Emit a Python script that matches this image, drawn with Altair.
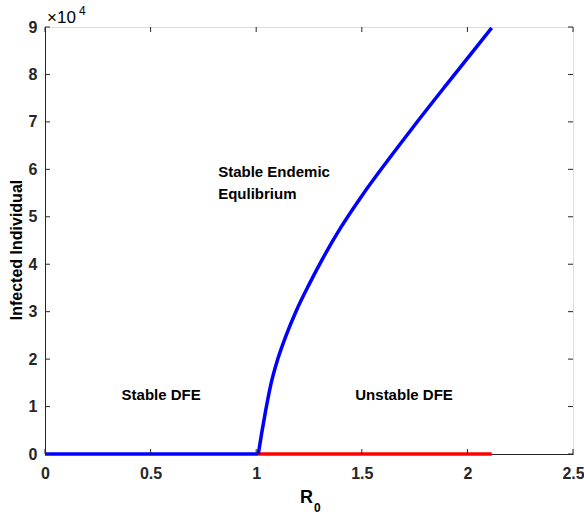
import altair as alt
import pandas as pd

# Data (y in units of 1e4)
dfe_x = [0.0, 1.01]
dfe_y = [0.0, 0.0]
unstable_x = [1.01, 2.115]
unstable_y = [0.0, 0.0]
ee_x = [1.010, 1.026, 1.045, 1.070, 1.100, 1.140, 1.190, 1.250, 1.320, 1.400, 1.500, 1.620,
        1.750, 1.900, 2.000, 2.115]
ee_y = [0.00, 0.44, 0.92, 1.48, 1.97, 2.48, 3.02, 3.57, 4.16, 4.77, 5.44, 6.17,
        6.93, 7.78, 8.34, 8.98]
x_ticks = [0, 0.5, 1, 1.5, 2, 2.5]
y_ticks = [0, 1, 2, 3, 4, 5, 6, 7, 8, 9]
labels = ["Stable DFE", "Stable Endemic", "Equlibrium", "Unstable DFE"]
label_x = [0.55, 0.82, 0.82, 1.7]
label_y = [1.24, 5.94, 5.48, 1.24]
label_align = ["center", "left", "left", "center"]

W, H = 528, 427
FONT = "Liberation Sans"
DARK = "#262626"

xs = alt.Scale(domain=[0, 2.5], nice=False)
ys = alt.Scale(domain=[0, 9], nice=False)

ee = pd.DataFrame({"x": ee_x, "y": ee_y, "o": range(len(ee_x))})
dfe = pd.DataFrame({"x": dfe_x, "y": dfe_y})
uns = pd.DataFrame({"x": unstable_x, "y": unstable_y})
lab = pd.DataFrame({"x": label_x, "y": label_y, "t": labels, "a": label_align})

xaxis = alt.Axis(values=x_ticks, title=None, labelFont=FONT, labelFontSize=16, labelFontWeight="bold",
                 labelColor=DARK, domainColor=DARK, ticks=False, grid=False, labelPadding=11,
                 labelFlush=False,
                 labelExpr="datum.value == 0 ? '0' : format(datum.value, '.1~f')")
yaxis = alt.Axis(values=y_ticks, title=None,
                 labelFont=FONT, labelFontSize=16, labelFontWeight="bold", labelColor=DARK,
                 domainColor=DARK, ticks=False, grid=False, labelPadding=8, labelFlush=False)

base_x = alt.X("x:Q", scale=xs, axis=xaxis)
base_y = alt.Y("y:Q", scale=ys, axis=yaxis)

blue1 = alt.Chart(dfe).mark_line(color="#0000FF", strokeWidth=3.5).encode(x=base_x, y=base_y)
red = alt.Chart(uns).mark_line(color="#FF0000", strokeWidth=3.5).encode(x="x:Q", y="y:Q")
blue2 = alt.Chart(ee).mark_line(color="#0000FF", strokeWidth=3.5, interpolate="monotone").encode(
    x="x:Q", y="y:Q", order="o:Q")

texts = alt.Chart(lab[lab.a == "center"]).mark_text(font=FONT, fontSize=15, fontWeight="bold",
                                                     color="#000000", align="center").encode(
    x="x:Q", y="y:Q", text="t:N")
texts_l = alt.Chart(lab[lab.a == "left"]).mark_text(font=FONT, fontSize=15, fontWeight="bold",
                                                   color="#000000", align="left").encode(
    x="x:Q", y="y:Q", text="t:N")

# inward ticks
xt = pd.DataFrame({"x": x_ticks})
yt = pd.DataFrame({"y": y_ticks})
tb = alt.Chart(xt).mark_rule(color=DARK, strokeWidth=1).encode(x="x:Q", y=alt.value(H), y2=alt.value(H - 5))
tt = alt.Chart(xt).mark_rule(color=DARK, strokeWidth=1).encode(x="x:Q", y=alt.value(0), y2=alt.value(5))
tl = alt.Chart(yt).mark_rule(color=DARK, strokeWidth=1).encode(y="y:Q", x=alt.value(0), x2=alt.value(5))
tr = alt.Chart(yt).mark_rule(color=DARK, strokeWidth=1).encode(y="y:Q", x=alt.value(W), x2=alt.value(W - 5))

# axis titles and exponent label
ann = pd.DataFrame({"k": [0]})
y_title = alt.Chart(ann).mark_text(font=FONT, fontSize=16, fontWeight="bold", color="#000000",
                                   align="center", baseline="middle", angle=270).encode(
    x=alt.value(-28), y=alt.value(223), text=alt.value("Infected Individual"))
r_t = alt.Chart(ann).mark_text(font=FONT, fontSize=18, fontWeight="bold", color="#000000", align="left",
                               baseline="alphabetic").encode(x=alt.value(255), y=alt.value(476),
                                                             text=alt.value("R"))
r_s = alt.Chart(ann).mark_text(font=FONT, fontSize=12, fontWeight="bold", color="#000000", align="left",
                               baseline="alphabetic").encode(x=alt.value(269), y=alt.value(485),
                                                             text=alt.value("0"))
e_t = alt.Chart(ann).mark_text(font=FONT, fontSize=17, color="#000000", align="left",
                               baseline="alphabetic").encode(x=alt.value(2), y=alt.value(-4),
                                                             text=alt.value("×10"))
e_s = alt.Chart(ann).mark_text(font=FONT, fontSize=12, color="#000000", align="left",
                               baseline="alphabetic").encode(x=alt.value(34), y=alt.value(-12),
                                                             text=alt.value("4"))

chart = alt.layer(blue1, red, blue2, texts, texts_l, tb, tt, tl, tr, y_title, r_t, r_s, e_t, e_s).properties(
    width=W, height=H,
    autosize=alt.AutoSizeParams(type="none"),
    padding={"left": 45, "top": 27, "right": 11, "bottom": 62},
).configure_view(stroke=DARK, strokeWidth=1).configure(background="white")

chart.save("out.html", embed_options={"renderer": "svg", "actions": False})
